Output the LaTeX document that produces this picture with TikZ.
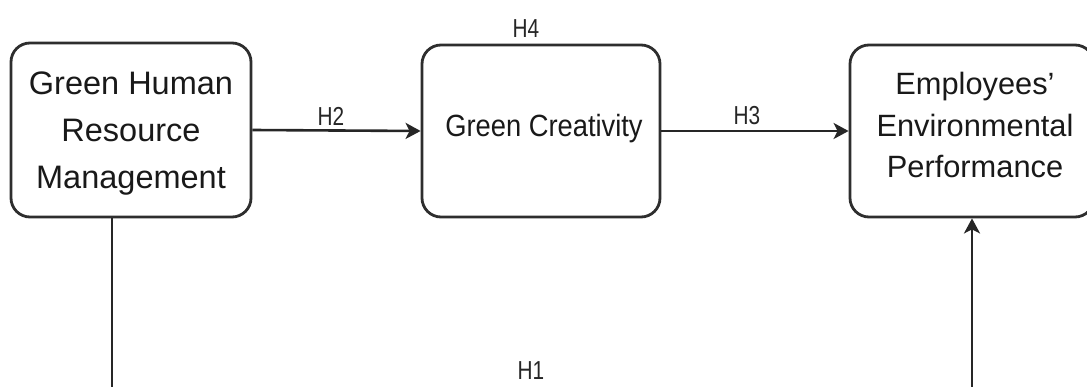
\documentclass[tikz,border=0pt]{standalone}
\usepackage{fontspec}
\setmainfont{Liberation Sans}
\usetikzlibrary{arrows.meta}
\begin{document}
\begin{tikzpicture}[x=1pt,y=-1pt,
  box/.style={draw=black!82,line width=2.8pt,rounded corners=19pt,inner sep=0pt},
  txt/.style={align=center,inner sep=0pt,text=black!90},
  conn/.style={draw=black!85,line width=2.6pt},
  arr/.style={conn,-{Stealth[length=15pt,width=16pt,inset=4pt]}},
  hlab/.style={font=\fontsize{26}{28}\selectfont,inner sep=0pt,text=black!85}]
\useasboundingbox (0,0) rectangle (1087,387);
\clip (0,0) rectangle (1087,387);
\node[box,minimum width=240pt,minimum height=174pt] (ghrm) at (131,130) {};
\node[txt,font=\fontsize{32.5}{47}\selectfont] (ghrmt) at (131,134) {Green Human\\Resource\\Management};
\node[box,minimum width=238pt,minimum height=172pt] (gc) at (541,131) {};
\node[txt,font=\fontsize{30.7}{34}\selectfont] (gct) at (544,129) {\scalebox{0.89}[1]{Green Creativity}};
\node[box,minimum width=244pt,minimum height=172pt] (eep) at (972,131) {};
\node[txt,font=\fontsize{30.8}{41.5}\selectfont] (eept) at (975,125) {Employees’\\Environmental\\Performance};
\draw[arr] (ghrm.east) -- (gc.west);
\draw[arr] (gc.east) -- (eep.west);
\node[hlab] (h2) at (331,116) {\scalebox{0.8}[1]{H2}};
\node[hlab] (h3) at (747,116) {\scalebox{0.8}[1]{H3}};
\node[hlab] (h4) at (526,29) {\scalebox{0.8}[1]{H4}};
\node[hlab] (h1) at (531,371) {\scalebox{0.8}[1]{H1}};
\coordinate (l1) at (112,395);
\coordinate (r1) at (972,395);
\draw[conn] (ghrm.south -| l1) -- (l1);
\draw[arr] (r1) -- (eep.south);
\end{tikzpicture}
\end{document}
